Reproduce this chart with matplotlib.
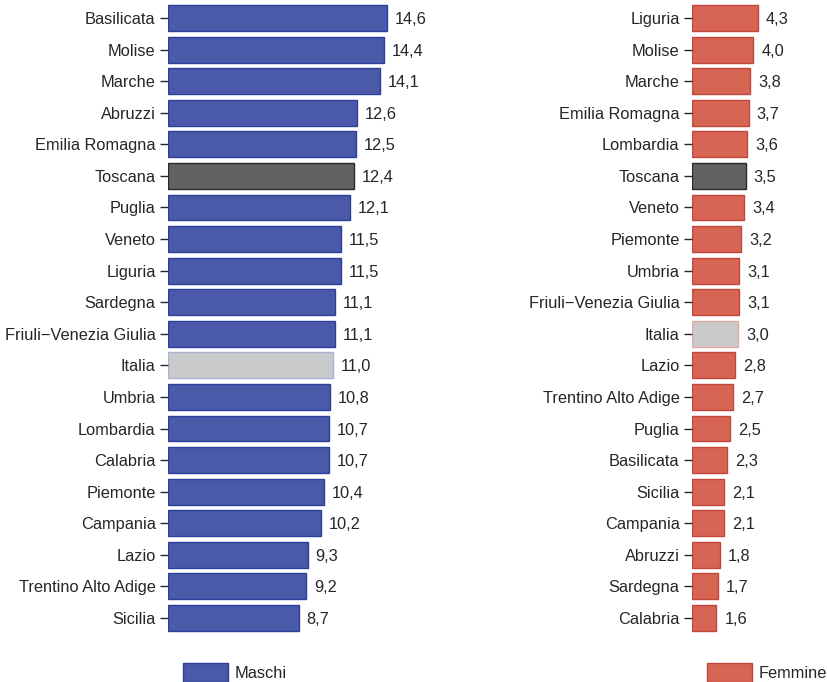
import numpy as np
import matplotlib.pyplot as plt
from matplotlib.patches import Patch

plt.rcParams['font.family'] = ['Liberation Sans', 'DejaVu Sans']

# dati
regioni_m = ["Basilicata", "Molise", "Marche", "Abruzzi", "Emilia Romagna", "Toscana",
             "Puglia", "Veneto", "Liguria", "Sardegna", "Friuli\u2212Venezia Giulia", "Italia",
             "Umbria", "Lombardia", "Calabria", "Piemonte", "Campania", "Lazio",
             "Trentino Alto Adige", "Sicilia"]
maschi = [14.6, 14.4, 14.1, 12.6, 12.5, 12.4, 12.1, 11.5, 11.5, 11.1, 11.1, 11.0,
          10.8, 10.7, 10.7, 10.4, 10.2, 9.3, 9.2, 8.7]

regioni_f = ["Liguria", "Molise", "Marche", "Emilia Romagna", "Lombardia", "Toscana",
             "Veneto", "Piemonte", "Umbria", "Friuli\u2212Venezia Giulia", "Italia", "Lazio",
             "Trentino Alto Adige", "Puglia", "Basilicata", "Sicilia", "Campania",
             "Abruzzi", "Sardegna", "Calabria"]
femmine = [4.3, 4.0, 3.8, 3.7, 3.6, 3.5, 3.4, 3.2, 3.1, 3.1, 3.0, 2.8, 2.7, 2.5,
           2.3, 2.1, 2.1, 1.8, 1.7, 1.6]

BLUE, BLUE_E = "#4a5aa8", "#2b3f9c"
RED, RED_E = "#d66553", "#c4463a"
DARK, DARK_E = "#626264", "#2a2a2a"
LIGHT = "#c9cacc"
TXT = "#262626"
FS = 11.8

W, H = 828, 682
fig = plt.figure(figsize=(W / 100, H / 100), dpi=100)


def pannello(left_px, px_per_unit, names, vals, fill, edge, light_edge):
    y0, y1 = 2.2, 633.8
    width_px = W - left_px
    ax = fig.add_axes([left_px / W, 1 - y1 / H, width_px / W, (y1 - y0) / H])
    y = np.arange(len(vals))
    fc, ec = [], []
    for n in names:
        if n == "Toscana":
            fc.append(DARK); ec.append(DARK_E)
        elif n == "Italia":
            fc.append(LIGHT); ec.append(light_edge)
        else:
            fc.append(fill); ec.append(edge)
    ax.barh(y, vals, height=0.82, color=fc, edgecolor=ec, linewidth=1.0)
    for yi, v in zip(y, vals):
        ax.annotate(f"{v:.1f}".replace(".", ","), (v, yi), xytext=(5.8, 0),
                    textcoords="offset points", va="center_baseline", ha="left",
                    fontsize=FS, color=TXT)
    ax.set_ylim(len(vals) - 0.5, -0.5)
    ax.set_xlim(0, width_px / px_per_unit)
    ax.set_yticks(y)
    ax.set_yticklabels(names, fontsize=FS, color=TXT)
    ax.tick_params(axis="y", length=6, width=1, color=TXT, pad=3)
    ax.set_xticks([])
    for s in ax.spines.values():
        s.set_visible(False)
    return ax


pannello(168, 15.0, regioni_m, maschi, BLUE, BLUE_E, "#aab2d4")
pannello(692, 15.3, regioni_f, femmine, RED, RED_E, "#e2aaa2")

for x_px, col, ecol, lab in [(183, BLUE, BLUE_E, "Maschi"), (707, RED, RED_E, "Femmine")]:
    fig.legend(handles=[Patch(facecolor=col, edgecolor=ecol, label=lab)],
               loc="lower left", bbox_to_anchor=(x_px / W, 0.5 / H), frameon=False,
               borderpad=0, borderaxespad=0,
               handlelength=2.75, handleheight=1.35, handletextpad=0.4, fontsize=FS,
               labelcolor=TXT)

fig.savefig("out.png", dpi=100)
